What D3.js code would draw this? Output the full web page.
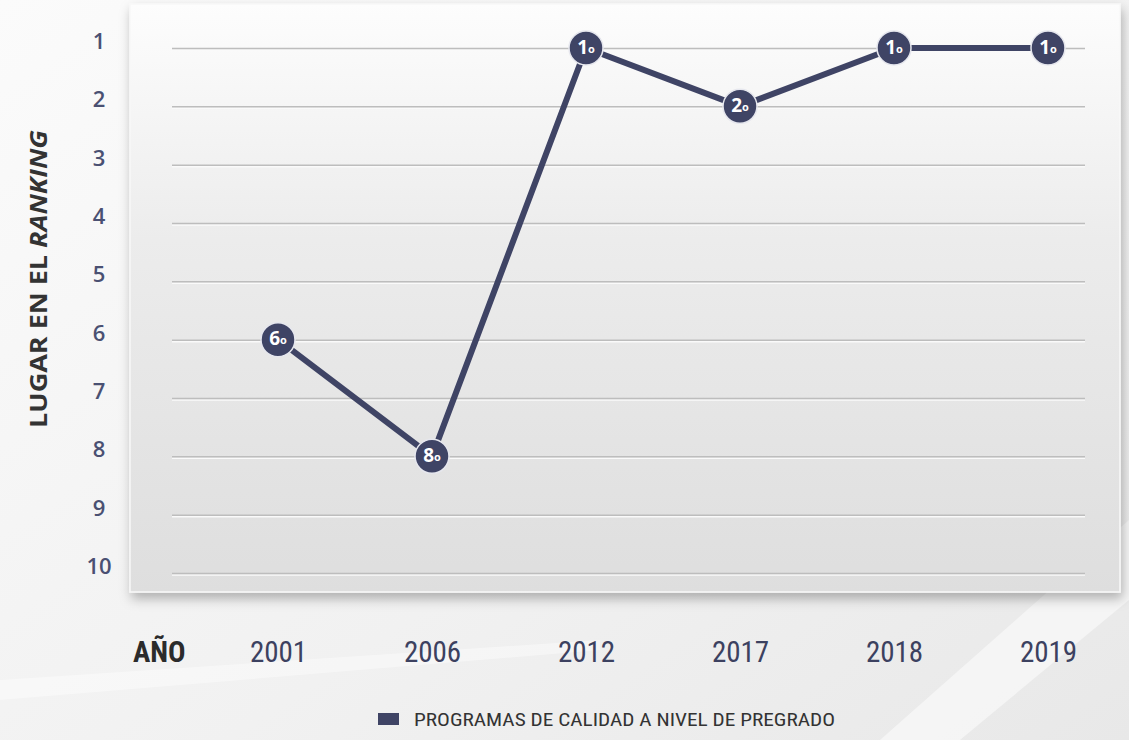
<!DOCTYPE html>
<html>
<head>
<meta charset="utf-8">
<script src="https://cdn.jsdelivr.net/npm/d3@7"></script>
<style>
  html, body { margin: 0; padding: 0; background: #f3f3f3; }
  svg { display: block; }
</style>
</head>
<body>
<div id="chart"></div>
<script>
// Data
const years = ['2001', '2006', '2012', '2017', '2018', '2019'];
const ranking = [6, 8, 1, 2, 1, 1];
const rankTicks = [1, 2, 3, 4, 5, 6, 7, 8, 9, 10];
const seriesName = 'PROGRAMAS DE CALIDAD A NIVEL DE PREGRADO';

const W = 1129, H = 740;
const navy = '#3f4465';
const narrow = '"Liberation Sans Narrow", "Roboto Condensed", "Arial Narrow", sans-serif';

const svg = d3.select('#chart')
    .append('svg')
    .attr('width', W)
    .attr('height', H);

const defs = svg.append('defs');

// page background
const bg = defs.append('linearGradient').attr('id', 'bg')
    .attr('x1', 0).attr('y1', 0).attr('x2', 1).attr('y2', 1);
bg.append('stop').attr('offset', '0%').attr('stop-color', '#fbfbfb');
bg.append('stop').attr('offset', '60%').attr('stop-color', '#f1f1f1');
bg.append('stop').attr('offset', '100%').attr('stop-color', '#e8e8e8');

// panel gradient
const pg = defs.append('linearGradient').attr('id', 'panel')
    .attr('x1', 0).attr('y1', 0).attr('x2', 0).attr('y2', 1);
pg.append('stop').attr('offset', '0%').attr('stop-color', '#fdfdfd');
pg.append('stop').attr('offset', '40%').attr('stop-color', '#ececec');
pg.append('stop').attr('offset', '100%').attr('stop-color', '#dedede');

const shadow = defs.append('filter').attr('id', 'shadow')
    .attr('x', '-5%').attr('y', '-5%').attr('width', '110%').attr('height', '115%');
shadow.append('feDropShadow')
    .attr('dx', 2).attr('dy', 6).attr('stdDeviation', 6)
    .attr('flood-color', '#000').attr('flood-opacity', 0.28);

svg.append('rect')
    .attr('width', W).attr('height', H)
    .attr('fill', 'url(#bg)');

// soft diagonal streaks in the background
svg.append('path')
    .attr('d', `M 880 740 L 1129 520 L 1129 600 L 960 740 Z`)
    .attr('fill', '#ffffff').attr('opacity', 0.5);
svg.append('path')
    .attr('d', `M 0 680 L 600 640 L 600 650 L 0 700 Z`)
    .attr('fill', '#ffffff').attr('opacity', 0.4);

// panel
const panel = { x0: 130, y0: 4, x1: 1120, y1: 592 };
svg.append('rect')
    .attr('x', panel.x0).attr('y', panel.y0)
    .attr('width', panel.x1 - panel.x0).attr('height', panel.y1 - panel.y0)
    .attr('fill', 'url(#panel)')
    .attr('stroke', '#f8f8f8')
    .attr('stroke-width', 1.5)
    .attr('filter', 'url(#shadow)');

// scales
const x = d3.scalePoint()
    .domain(years)
    .range([278, 1048]);

const y = d3.scaleLinear()
    .domain([1, 10])
    .range([48, 573]);

const gridLeft = 172, gridRight = 1085;

// grid lines (white highlight under a grey line)
svg.append('g')
    .attr('transform', `translate(${gridLeft},1.5)`)
    .call(d3.axisLeft(y).tickValues(rankTicks).tickSize(-(gridRight - gridLeft)).tickFormat(''))
    .call(g => g.select('.domain').remove())
    .call(g => g.selectAll('line').attr('stroke', '#fafafa').attr('stroke-width', 1.5));

svg.append('g')
    .attr('transform', `translate(${gridLeft},0)`)
    .call(d3.axisLeft(y).tickValues(rankTicks).tickSize(-(gridRight - gridLeft)).tickFormat(''))
    .call(g => g.select('.domain').remove())
    .call(g => g.selectAll('line').attr('stroke', '#bdbdbd').attr('stroke-width', 1.5));

// y tick labels
svg.append('g')
    .attr('transform', 'translate(99,0)')
    .call(d3.axisLeft(y).tickValues(rankTicks).tickSize(0).tickPadding(0))
    .call(g => g.select('.domain').remove())
    .call(g => g.selectAll('text')
        .attr('text-anchor', 'middle')
        .attr('x', 0)
        .attr('dy', '0.02em')
        .attr('fill', '#4a5072')
        .style('font-family', '"Open Sans", sans-serif')
        .style('font-weight', 600)
        .style('font-size', '22px'));

// y axis title
const yTitle = svg.append('text')
    .attr('transform', 'translate(47,279) rotate(-90)')
    .attr('text-anchor', 'middle')
    .attr('fill', '#333333')
    .style('font-family', '"Open Sans", sans-serif')
    .style('font-weight', 700)
    .style('font-size', '24px')
    .attr('textLength', 298)
    .attr('lengthAdjust', 'spacingAndGlyphs');
yTitle.append('tspan').text('LUGAR EN EL ');
yTitle.append('tspan').style('font-style', 'italic').text('RANKING');

// x axis labels
svg.append('g')
    .attr('transform', 'translate(0,652)')
    .call(d3.axisBottom(x).tickSize(0).tickPadding(0))
    .call(g => g.select('.domain').remove())
    .call(g => g.selectAll('text')
        .attr('dy', '0.35em')
        .attr('fill', '#3c4160')
        .style('font-family', narrow)
        .style('font-size', '29px'));

svg.append('text')
    .attr('x', 133).attr('y', 652)
    .attr('dy', '0.35em')
    .attr('fill', '#2b2b2b')
    .style('font-family', narrow)
    .style('font-weight', 700)
    .style('font-size', '29px')
    .text('AÑO');

// line
const line = d3.line()
    .x((d, i) => x(years[i]))
    .y(d => y(d));

svg.append('path')
    .datum(ranking)
    .attr('fill', 'none')
    .attr('stroke', navy)
    .attr('stroke-width', 6)
    .attr('stroke-linejoin', 'round')
    .attr('d', line);

// markers
const marks = svg.selectAll('.mark')
    .data(ranking)
    .enter()
    .append('g')
    .attr('class', 'mark')
    .attr('transform', (d, i) => `translate(${x(years[i])},${y(d)})`);

marks.append('circle')
    .attr('r', 17)
    .attr('fill', navy)
    .attr('stroke', '#e6e7ee')
    .attr('stroke-width', 1.5);

const lbl = marks.append('text')
    .attr('text-anchor', 'middle')
    .attr('dy', '0.36em')
    .attr('fill', '#ffffff')
    .style('font-family', '"Open Sans", sans-serif')
    .style('font-weight', 700);
lbl.append('tspan').style('font-size', '19px').text(d => d);
lbl.append('tspan').style('font-size', '11px').attr('dy', '-1').text('o');

// legend
const legend = svg.append('g').attr('transform', 'translate(378,719)');
legend.append('rect')
    .attr('x', 0).attr('y', -6)
    .attr('width', 21).attr('height', 12)
    .attr('fill', navy);
legend.append('text')
    .attr('x', 36)
    .attr('dy', '0.35em')
    .attr('fill', '#333333')
    .style('font-family', narrow)
    .style('font-size', '19px')
    .attr('textLength', 421)
    .attr('lengthAdjust', 'spacingAndGlyphs')
    .text(seriesName);
</script>
</body>
</html>
